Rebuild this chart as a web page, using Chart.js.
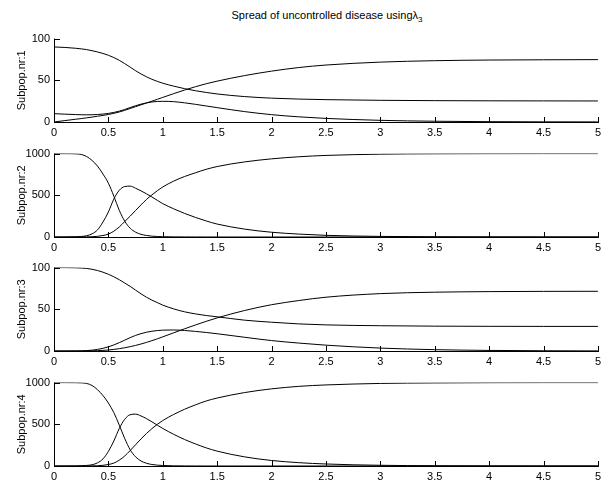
<!DOCTYPE html>
<html>
<head>
<meta charset="utf-8">
<script src="https://cdn.jsdelivr.net/npm/chart.js@4"></script>
<style>
  body { margin: 0; background: #fff; width: 605px; height: 480px; position: relative; overflow: hidden;
         font-family: "Liberation Sans", Arial, Helvetica, sans-serif; }
  #title { position: absolute; left: 54px; width: 546px; top: 9px; text-align: center;
           font-size: 11px; line-height: 13px; color: #000; }
  #title sub { font-size: 8px; vertical-align: -3px; line-height: 0; }
  canvas { position: absolute; left: 0; }
</style>
</head>
<body>
<div id="title">Spread of uncontrolled disease using&lambda;<sub>3</sub></div>
<canvas id="sp1" width="605" height="112" style="top:28px"></canvas>
<canvas id="sp2" width="605" height="112" style="top:143px"></canvas>
<canvas id="sp3" width="605" height="112" style="top:257px"></canvas>
<canvas id="sp4" width="605" height="112" style="top:372px"></canvas>
<script>
// time grid shared by every subpopulation
const time = [0, 0.1, 0.2, 0.25, 0.3, 0.35, 0.4, 0.45, 0.5, 0.55, 0.6, 0.65, 0.7, 0.75, 0.8, 0.85, 0.9, 0.95,
              1.0, 1.1, 1.2, 1.3, 1.4, 1.5, 1.75, 2.0, 2.25, 2.5, 3.0, 3.5, 4.0, 4.5, 5.0];

// subpopulation 1 (size 100)
const sus1 = [90, 89.4, 88.4, 87.7, 86.8, 85.5, 84, 82.2, 80, 77.3, 74, 70, 65.8, 61.5, 57.6, 54.2, 51.2, 48.7,
              46.5, 43, 40, 37.5, 35.4, 33.6, 30.5, 28.6, 27.5, 26.8, 26, 25.6, 25.4, 25.3, 25.2];
const inf1 = [10, 9.4, 8.9, 8.7, 8.6, 8.7, 9, 9.5, 10.3, 11.5, 13, 15, 17.3, 19.5, 21.4, 22.9, 24, 24.6,
              24.8, 24.4, 23, 21.2, 19.2, 17.2, 12.5, 8.8, 6.2, 4.3, 2, 0.9, 0.4, 0.2, 0.1];
const rec1 = [0, 1.7, 3.3, 4.1, 5, 5.9, 6.9, 7.9, 9, 10.4, 12, 14, 16.2, 18.4, 20.6, 22.8, 25, 27.2,
              29.5, 34, 38.3, 42.3, 45.9, 49, 55.6, 61, 65.3, 68.3, 71.8, 73.5, 74.3, 74.6, 74.8];

// subpopulation 2 (size 1000)
const sus2 = [1000, 999.5, 997, 990, 965, 918, 850, 755, 645, 490, 320, 190, 105, 58, 32, 18, 10, 6,
              3.5, 1.5, 0.6, 0.3, 0.1, 0, 0, 0, 0, 0, 0, 0, 0, 0, 0];
const inf2 = [0, 0.5, 2.5, 6, 15, 38, 85, 180, 300, 455, 560, 605, 610, 585, 553, 518, 480, 440,
              400, 338, 283, 235, 192, 155, 95, 57, 35, 20, 7, 2.5, 1, 0.4, 0.1];
const rec2 = [0, 0, 0.2, 0.5, 1.5, 3.5, 8, 18, 35, 70, 120, 185, 250, 318, 385, 450, 505, 555,
              600, 670, 725, 770, 812, 845, 900, 937, 962, 978, 993, 998, 999.5, 1000, 1000];

// subpopulation 3 (size 100)
const sus3 = [100, 100, 99.8, 99.5, 99, 98, 96.5, 94.5, 92, 89, 85.5, 81.5, 77.5, 73, 68.5, 64.5, 61, 58,
              55, 50.5, 47, 44.5, 42.5, 41, 37, 34.5, 32.5, 31.3, 30.3, 29.8, 29.6, 29.5, 29.5];
const inf3 = [0, 0, 0.1, 0.2, 0.5, 1, 1.9, 3.2, 5, 7.3, 10, 13, 16, 18.7, 20.8, 22.5, 23.7, 24.5,
              25, 25.2, 24.6, 23.5, 22.2, 20.7, 16.5, 12.5, 9.5, 7, 3.5, 1.6, 0.7, 0.3, 0.1];
const rec3 = [0, 0, 0, 0, 0.1, 0.2, 0.4, 0.7, 1.2, 1.9, 2.8, 3.9, 5.2, 6.7, 8.4, 10.3, 12.4, 14.6,
              17, 21.8, 26.6, 31.2, 35.6, 39.7, 48.5, 55.5, 60.5, 64.5, 68.8, 70.5, 71.2, 71.5, 71.6];

// subpopulation 4 (size 1000)
const sus4 = [1000, 1000, 999, 997, 990, 965, 915, 845, 755, 640, 490, 330, 195, 110, 60, 33, 18, 10,
              6, 2.2, 0.8, 0.3, 0.1, 0, 0, 0, 0, 0, 0, 0, 0, 0, 0];
const inf4 = [0, 0.2, 1, 3, 7, 15, 38, 85, 175, 300, 450, 560, 615, 622, 600, 568, 530, 490,
              450, 380, 318, 265, 217, 178, 110, 66, 40, 24, 8.5, 3, 1.2, 0.5, 0.2];
const rec4 = [0, 0, 0, 0.2, 0.5, 1.5, 3.5, 8, 18, 35, 70, 120, 185, 255, 325, 390, 448, 500,
              545, 618, 680, 733, 780, 815, 880, 925, 955, 972, 990, 996, 999, 1000, 1000];

const xTicks = [0, 0.5, 1, 1.5, 2, 2.5, 3, 3.5, 4, 4.5, 5];
const panels = [
  { id: "sp1", label: "Subpop.nr:1", max: 100,  step: 50,  series: [sus1, inf1, rec1] },
  { id: "sp2", label: "Subpop.nr:2", max: 1000, step: 500, series: [sus2, inf2, rec2] },
  { id: "sp3", label: "Subpop.nr:3", max: 100,  step: 50,  series: [sus3, inf3, rec3] },
  { id: "sp4", label: "Subpop.nr:4", max: 1000, step: 500, series: [sus4, inf4, rec4] }
];

// left/bottom axis lines with ticks pointing into the plot
const boxOffAxes = {
  id: "boxOffAxes",
  afterDraw(chart) {
    const { ctx, chartArea: a, scales: { x, y } } = chart;
    ctx.save();
    ctx.strokeStyle = "#000";
    ctx.lineWidth = 1;
    ctx.beginPath();
    ctx.moveTo(a.left + 0.5, a.top);
    ctx.lineTo(a.left + 0.5, a.bottom + 0.5);
    ctx.lineTo(a.right + 1, a.bottom + 0.5);
    x.ticks.forEach(t => {
      const px = Math.round(x.getPixelForValue(t.value)) + 0.5;
      ctx.moveTo(px, a.bottom);
      ctx.lineTo(px, a.bottom - 5);
    });
    y.ticks.forEach(t => {
      const py = Math.round(y.getPixelForValue(t.value)) + 0.5;
      ctx.moveTo(a.left, py);
      ctx.lineTo(a.left + 6, py);
    });
    ctx.stroke();
    ctx.restore();
  }
};

const font = { family: '"Liberation Sans", Arial, sans-serif', size: 11 };

panels.forEach(p => {
  const datasets = p.series.map(vals => ({
    data: time.map((t, i) => ({ x: t, y: vals[i] })),
    borderColor: "#000",
    borderWidth: 1,
    pointRadius: 0,
    fill: false,
    cubicInterpolationMode: "monotone"
  }));

  new Chart(document.getElementById(p.id), {
    type: "line",
    data: { datasets },
    plugins: [boxOffAxes],
    options: {
      responsive: false,
      animation: false,
      devicePixelRatio: 1,
      layout: { padding: { top: 8, right: 5, bottom: 0, left: 0 } },
      plugins: { legend: { display: false }, tooltip: { enabled: false }, title: { display: false } },
      scales: {
        x: {
          type: "linear",
          min: 0,
          max: 5,
          afterBuildTicks: s => { s.ticks = xTicks.map(v => ({ value: v })); },
          afterFit: s => { s.height = 18; },
          grid: { display: false, drawTicks: false },
          border: { display: false },
          ticks: { color: "#000", font, padding: 4, maxRotation: 0, autoSkip: false,
                   callback: v => String(v) }
        },
        y: {
          min: 0,
          max: p.max,
          afterFit: s => { s.width = 54; },
          grid: { display: false, drawTicks: false },
          border: { display: false },
          ticks: { color: "#000", font, padding: 4, stepSize: p.step, callback: v => String(v) },
          title: { display: true, text: p.label, color: "#000", font,
                   padding: { top: 15, bottom: 0 } }
        }
      }
    }
  });
});
</script>
</body>
</html>
